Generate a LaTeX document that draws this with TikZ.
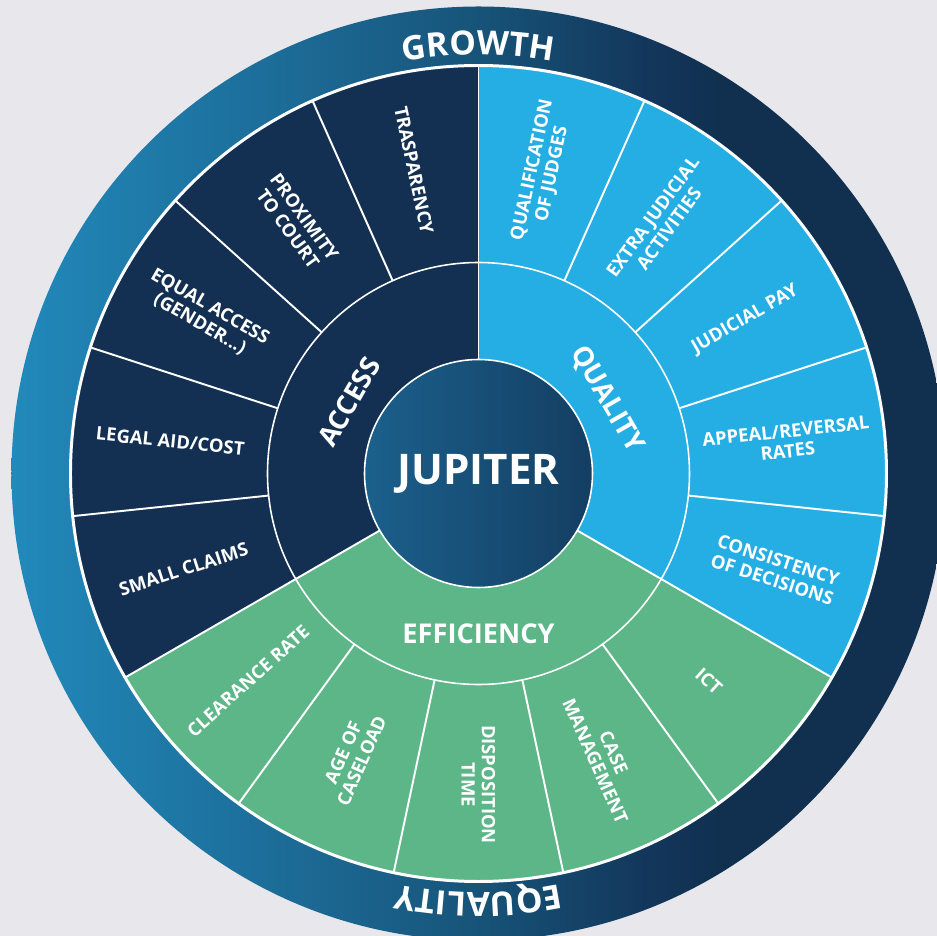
\documentclass[tikz,border=0pt]{standalone}
\usepackage{fontspec}
\setmainfont{Open Sans}
\usetikzlibrary{decorations.text}

\definecolor{bggray}{HTML}{E8E7EC}
\definecolor{accnavy}{HTML}{132F51}
\definecolor{qualblue}{HTML}{25AEE4}
\definecolor{effgreen}{HTML}{5DB688}
\definecolor{ringL}{HTML}{2189BB}
\definecolor{ringA}{HTML}{1C6A95}
\definecolor{ringB}{HTML}{175479}
\definecolor{ringC}{HTML}{13365B}
\definecolor{ringR}{HTML}{11304F}
\definecolor{hubL}{HTML}{1B608C}
\definecolor{hubR}{HTML}{143E62}

\pgfdeclarehorizontalshading{ringshade}{100bp}{color(0bp)=(ringL); color(25bp)=(ringL); color(40.4bp)=(ringA); color(49.8bp)=(ringB); color(59.2bp)=(ringC); color(63bp)=(ringR); color(100bp)=(ringR)}

\tikzset{
  seglabel/.style={text=white, font=\bfseries\fontsize{10.5}{11.5}\selectfont, align=center, inner sep=0pt},
  ringlabel/.style={text=white, font=\bfseries\fontsize{15.5}{18}\selectfont, inner sep=0pt},
  divline/.style={white, line width=1.1pt},
  rimtext/.style={decorate, decoration={text along path, text align=center, text color=white,
      text={|\bfseries\fontsize{19}{20}\selectfont|#1}}}
}

\begin{document}
\begin{tikzpicture}[x=0.02cm, y=0.02cm]
        \useasboundingbox (-478.5,-462.5) rectangle (458.5,473.5);
        \clip (-478.5,-462.5) rectangle (458.5,473.5);
        \fill[bggray] (-478.5,-462.5) rectangle (458.5,473.5);
        % outer ring
        \shade[shading=ringshade] (0,0) circle (467);
        \path[rimtext=GROWTH] (115:419) arc[start angle=115, end angle=65, radius=419];
        \path[rimtext=EQUALITY] (-60:419) arc[start angle=-60, end angle=-120, radius=419];
        % three sectors
        \fill[accnavy] (0,0) -- (90:408) arc[start angle=90, end angle=210, radius=408] -- cycle;
        \fill[qualblue] (0,0) -- (-30:408) arc[start angle=-30, end angle=90, radius=408] -- cycle;
        \fill[effgreen] (0,0) -- (210:408) arc[start angle=210, end angle=330, radius=408] -- cycle;
        \foreach \a in {114,138,162,186,66,42,18,-6,234,258,282,306}
            \draw[divline] (\a:211) -- (\a:408);
        \foreach \a in {90,210,330}
            \draw[divline] (\a:114) -- (\a:408);
        \draw[white, line width=0.9pt] (0,0) circle (211);
        \draw[white, line width=1.7pt] (0,0) circle (408);
        % hub
        \shadedraw[left color=hubL, right color=hubR, draw=white, line width=0.9pt] (0,0) circle (114);
        \node[text=white, font=\bfseries\fontsize{24}{28}\selectfont] (hub) at (0,0) {JUPITER};
        \node[ringlabel, rotate=60] (access) at (151:148) {ACCESS};
        \node[ringlabel, rotate=-60] (quality) at (30:148) {QUALITY};
        \node[ringlabel] (efficiency) at (270:160) {EFFICIENCY};
        % access
        \node[seglabel, rotate=-78] (trasp) at (102:310) {TRASPARENCY};
        \node[seglabel, rotate=-54] (proximity) at (126:310) {PROXIMITY\\TO COURT};
        \node[seglabel, rotate=-30] (equal) at (150:316) {EQUAL ACCESS\\(GENDER...)};
        \node[seglabel, rotate=-6] (legalaid) at (174:310) {LEGAL AID/COST};
        \node[seglabel, rotate=18] (small) at (198:310) {SMALL CLAIMS};
        % quality
        \node[seglabel, rotate=78] (qualif) at (78:308) {QUALIFICATION\\OF JUDGES};
        \node[seglabel, rotate=54] (extra) at (54:310) {EXTRA JUDICIAL\\ACTIVITIES};
        \node[seglabel, rotate=30] (pay) at (30:308) {JUDICIAL PAY};
        \node[seglabel, rotate=6] (appeal) at (6:310) {APPEAL/REVERSAL\\RATES};
        \node[seglabel, rotate=-18] (consist) at (-18:312) {CONSISTENCY\\OF DECISIONS};
        % efficiency
        \node[seglabel, rotate=42] (clearance) at (222:310) {CLEARANCE RATE};
        \node[seglabel, rotate=66] (age) at (246:310) {AGE OF\\CASELOAD};
        \node[seglabel, rotate=-90] (dispo) at (270:311) {DISPOSITION\\TIME};
        \node[seglabel, rotate=-66] (casemgmt) at (294:310) {CASE\\MANAGEMENT};
        \node[seglabel, rotate=-42] (ict) at (318:310) {ICT};
\end{tikzpicture}
\end{document}
